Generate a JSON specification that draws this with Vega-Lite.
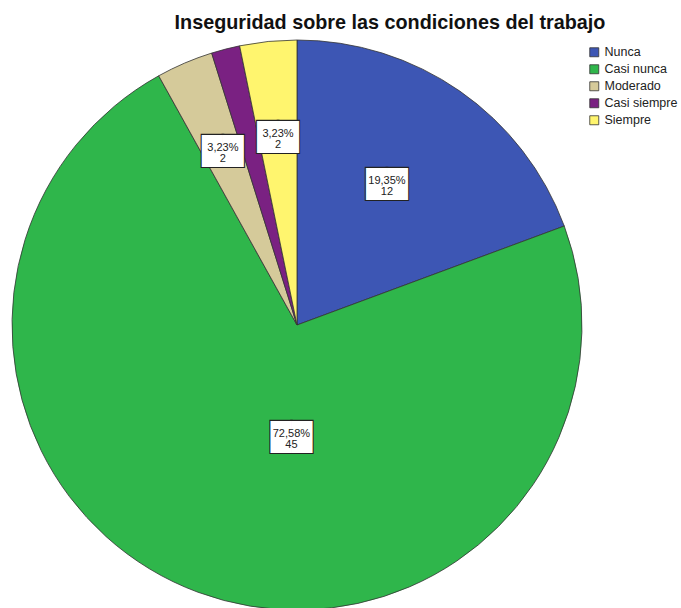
{
  "$schema": "https://vega.github.io/schema/vega-lite/v6.json",
  "width": 570,
  "height": 570,
  "autosize": {"type": "none"},
  "padding": {"left": 12, "top": 40, "right": 99, "bottom": -2},
  "background": "white",
  "title": {
    "text": "Inseguridad sobre las condiciones del trabajo",
    "font": "Liberation Sans",
    "fontSize": 19.8,
    "fontWeight": "bold",
    "color": "#111111",
    "anchor": "middle",
    "dx": 93,
    "offset": 6
  },
  "data": {
    "values": [
      {"cat": "Nunca", "ord": 1, "count": 12, "pct": "19,35%"},
      {"cat": "Casi nunca", "ord": 2, "count": 45, "pct": "72,58%"},
      {"cat": "Moderado", "ord": 3, "count": 2, "pct": "3,23%"},
      {"cat": "Casi siempre", "ord": 4, "count": 1, "pct": ""},
      {"cat": "Siempre", "ord": 5, "count": 2, "pct": "3,23%"}
    ]
  },
  "transform": [
    {"calculate": "datum.pct == '' ? '' : datum.pct + '\\n' + datum.count", "as": "label"},
    {"calculate": "datum.pct == '' ? '' : '██'", "as": "box"}
  ],
  "encoding": {
    "theta": {"field": "count", "type": "quantitative", "stack": true},
    "order": {"field": "ord", "type": "quantitative"}
  },
  "layer": [
    {
      "mark": {"type": "arc", "stroke": "#333333", "strokeWidth": 0.8},
      "encoding": {
        "color": {
          "field": "cat",
          "type": "nominal",
          "scale": {
            "domain": ["Nunca", "Casi nunca", "Moderado", "Casi siempre", "Siempre"],
            "range": ["#3d56b4", "#2fb64b", "#d5ca9a", "#7a2182", "#fff56e"]
          },
          "legend": {
            "title": null,
            "orient": "none",
            "legendX": 576,
            "legendY": 6,
            "symbolType": "square",
            "symbolSize": 81,
            "symbolStrokeColor": "#333333",
            "symbolStrokeWidth": 0.8,
            "labelFont": "Liberation Sans",
            "labelFontSize": 12.5,
            "labelColor": "#222222",
            "rowPadding": 4,
            "labelOffset": 4
          }
        }
      }
    },
    {
      "mark": {"type": "text", "font": "DejaVu Sans", "fontSize": 27, "color": "#222222", "stroke": "#222222", "strokeWidth": 2.2, "baseline": "middle", "radius": 168, "dx": -6, "dy": -2},
      "encoding": {"text": {"condition": {"test": "datum.cat == 'Nunca'", "field": "box"}, "value": ""}}
    },
    {
      "mark": {"type": "text", "font": "DejaVu Sans", "fontSize": 27, "color": "white", "baseline": "middle", "radius": 168, "dx": -6, "dy": -2},
      "encoding": {"text": {"condition": {"test": "datum.cat == 'Nunca'", "field": "box"}, "value": ""}}
    },
    {
      "mark": {"type": "text", "font": "Liberation Sans", "fontSize": 11, "color": "#222222", "lineBreak": "\n", "lineHeight": 11, "baseline": "middle", "radius": 168, "dx": -6, "dy": -6},
      "encoding": {"text": {"condition": {"test": "datum.cat == 'Nunca'", "field": "label"}, "value": ""}}
    },
    {
      "mark": {"type": "text", "font": "DejaVu Sans", "fontSize": 27, "color": "#222222", "stroke": "#222222", "strokeWidth": 2.2, "baseline": "middle", "radius": 114, "dx": 34, "dy": 6},
      "encoding": {"text": {"condition": {"test": "datum.cat == 'Casi nunca'", "field": "box"}, "value": ""}}
    },
    {
      "mark": {"type": "text", "font": "DejaVu Sans", "fontSize": 27, "color": "white", "baseline": "middle", "radius": 114, "dx": 34, "dy": 6},
      "encoding": {"text": {"condition": {"test": "datum.cat == 'Casi nunca'", "field": "box"}, "value": ""}}
    },
    {
      "mark": {"type": "text", "font": "Liberation Sans", "fontSize": 11, "color": "#222222", "lineBreak": "\n", "lineHeight": 11, "baseline": "middle", "radius": 114, "dx": 34, "dy": 2},
      "encoding": {"text": {"condition": {"test": "datum.cat == 'Casi nunca'", "field": "label"}, "value": ""}}
    },
    {
      "mark": {"type": "text", "font": "DejaVu Sans", "fontSize": 27, "color": "#222222", "stroke": "#222222", "strokeWidth": 2.2, "baseline": "middle", "radius": 188},
      "encoding": {"text": {"condition": {"test": "datum.cat == 'Moderado' || datum.cat == 'Siempre'", "field": "box"}, "value": ""}}
    },
    {
      "mark": {"type": "text", "font": "DejaVu Sans", "fontSize": 27, "color": "white", "baseline": "middle", "radius": 188},
      "encoding": {"text": {"condition": {"test": "datum.cat == 'Moderado' || datum.cat == 'Siempre'", "field": "box"}, "value": ""}}
    },
    {
      "mark": {"type": "text", "font": "Liberation Sans", "fontSize": 11, "color": "#222222", "lineBreak": "\n", "lineHeight": 11, "baseline": "middle", "radius": 188, "dy": -4},
      "encoding": {"text": {"condition": {"test": "datum.cat == 'Moderado' || datum.cat == 'Siempre'", "field": "label"}, "value": ""}}
    }
  ]
}
